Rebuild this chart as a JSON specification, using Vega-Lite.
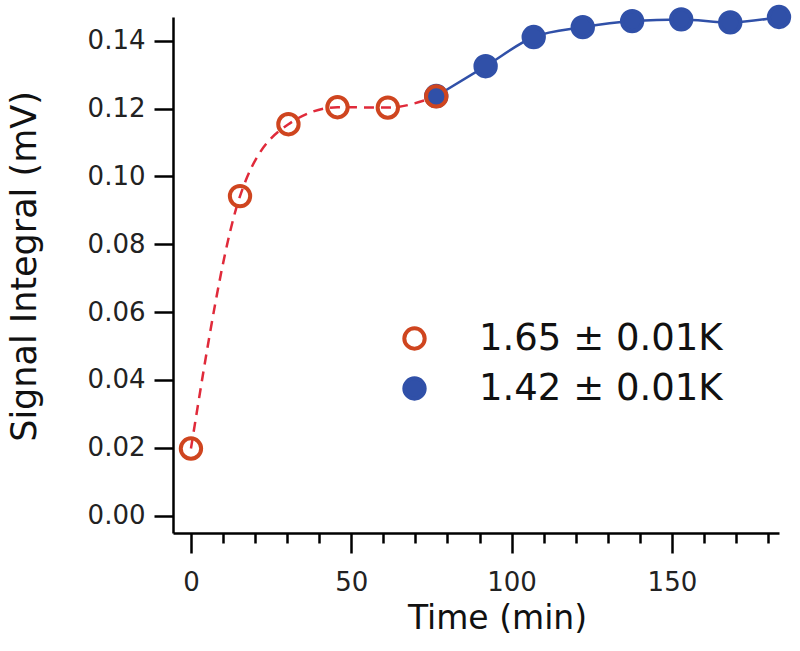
{
  "$schema": "https://vega.github.io/schema/vega-lite/v6.json",
  "width": 606,
  "height": 516,
  "autosize": {"type": "none"},
  "padding": {"left": 173, "top": 17, "right": 21, "bottom": 118},
  "background": "white",
  "config": {"view": {"stroke": null}, "font": "DejaVu Sans"},
  "data": {
    "values": [
      {"time": 76.5, "signal": 0.1237, "series": "1.42 ± 0.01K"},
      {"time": 91.9, "signal": 0.1325, "series": "1.42 ± 0.01K"},
      {"time": 106.9, "signal": 0.1411, "series": "1.42 ± 0.01K"},
      {"time": 122.2, "signal": 0.1440, "series": "1.42 ± 0.01K"},
      {"time": 137.6, "signal": 0.1458, "series": "1.42 ± 0.01K"},
      {"time": 152.9, "signal": 0.1463, "series": "1.42 ± 0.01K"},
      {"time": 168.2, "signal": 0.1454, "series": "1.42 ± 0.01K"},
      {"time": 183.4, "signal": 0.1470, "series": "1.42 ± 0.01K"},
      {"time": 0, "signal": 0.0198, "series": "1.65 ± 0.01K"},
      {"time": 15.3, "signal": 0.0942, "series": "1.65 ± 0.01K"},
      {"time": 30.4, "signal": 0.1154, "series": "1.65 ± 0.01K"},
      {"time": 45.7, "signal": 0.1204, "series": "1.65 ± 0.01K"},
      {"time": 61.4, "signal": 0.1203, "series": "1.65 ± 0.01K"},
      {"time": 76.5, "signal": 0.1236, "series": "1.65 ± 0.01K"}
    ]
  },
  "encoding": {
    "x": {
      "field": "time",
      "type": "quantitative",
      "scale": {"domain": [-5.6, 183.4], "nice": false, "zero": false},
      "axis": {
        "title": "Time (min)",
        "values": [0, 10, 20, 30, 40, 50, 60, 70, 80, 90, 100, 110, 120, 130, 140, 150, 160, 170, 180],
        "labelExpr": "datum.value % 50 === 0 ? datum.label : ''",
        "tickSize": {"condition": {"test": "datum.value % 50 === 0", "value": 20}, "value": 10},
        "grid": false,
        "domainColor": "black",
        "domainWidth": 2.5,
        "tickColor": "black",
        "tickWidth": 2.5,
        "labelFontSize": 26,
        "labelColor": "#222",
        "labelPadding": 16,
        "labelFlush": false,
        "labelOverlap": false,
        "titleFontSize": 33,
        "titleFontWeight": "normal",
        "titleColor": "#111",
        "titleBaseline": "alphabetic",
        "titleX": 324,
        "titleY": 95
      }
    },
    "y": {
      "field": "signal",
      "type": "quantitative",
      "scale": {"domain": [-0.0051, 0.147], "nice": false, "zero": false},
      "axis": {
        "title": "Signal Integral (mV)",
        "values": [0, 0.02, 0.04, 0.06, 0.08, 0.1, 0.12, 0.14],
        "format": ".2f",
        "grid": false,
        "domainColor": "black",
        "domainWidth": 2.5,
        "tickColor": "black",
        "tickWidth": 2.5,
        "tickSize": 19,
        "labelFontSize": 26,
        "labelColor": "#222",
        "labelPadding": 9,
        "labelFlush": false,
        "labelOverlap": false,
        "titleFontSize": 35,
        "titleFontWeight": "normal",
        "titleColor": "#111",
        "titleX": -131,
        "titleY": 249
      }
    }
  },
  "layer": [
    {
      "transform": [{"filter": "datum.series === '1.65 ± 0.01K'"}],
      "mark": {"type": "line", "interpolate": "monotone", "color": "#e02a3a", "strokeWidth": 2.5, "strokeDash": [10, 7]}
    },
    {
      "transform": [{"filter": "datum.series === '1.42 ± 0.01K'"}],
      "mark": {"type": "line", "interpolate": "monotone", "color": "#3050a8", "strokeWidth": 2.5}
    },
    {
      "mark": {"type": "point", "shape": "circle", "size": 415, "strokeWidth": 4, "opacity": 1},
      "encoding": {
        "stroke": {
          "field": "series",
          "type": "nominal",
          "scale": {"domain": ["1.65 ± 0.01K", "1.42 ± 0.01K"], "range": ["#cf451f", "#3050a8"]},
          "legend": {"orient": "none", "legendX": 223, "legendY": 303, "title": null, "labelFontSize": 37, "labelColor": "#111", "labelLimit": 500, "symbolSize": 415, "symbolStrokeWidth": 4, "symbolType": "circle", "rowPadding": 12, "labelOffset": 46, "padding": 0}
        },
        "fill": {
          "field": "series",
          "type": "nominal",
          "scale": {"domain": ["1.65 ± 0.01K", "1.42 ± 0.01K"], "range": ["transparent", "#3050a8"]},
          "legend": {"orient": "none", "legendX": 223, "legendY": 303, "title": null, "labelFontSize": 37, "labelColor": "#111", "labelLimit": 500, "symbolSize": 415, "symbolStrokeWidth": 4, "symbolType": "circle", "rowPadding": 12, "labelOffset": 46, "padding": 0}
        }
      }
    }
  ]
}
